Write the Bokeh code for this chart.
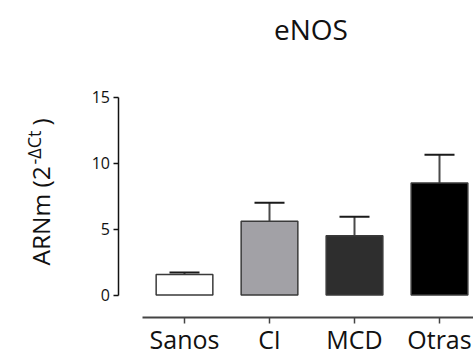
from bokeh.plotting import figure
from bokeh.models import (ColumnDataSource, LinearAxis, FixedTicker, Range1d,
                          Whisker, TeeHead, Label)
from bokeh.embed import file_html
from bokeh.resources import INLINE
import math

# ---- data ----
categories = ["Sanos", "CI", "MCD", "Otras"]
means = [1.55, 5.6, 4.5, 8.5]
errors = [0.15, 1.4, 1.45, 2.15]
fills = ["#ffffff", "#a2a1a6", "#2e2e2e", "#000000"]
y_ticks = [0, 5, 10, 15]
title_text = "eNOS"

FONT = "Open Sans"
W, H = 473, 354
PX_X = 85.0      # pixels per category step
PX_Y = 13.17     # pixels per y unit

x_positions = [i + 1 for i in range(len(categories))]
upper = [m + e for m, e in zip(means, errors)]

src = ColumnDataSource(dict(x=x_positions, top=means, upper=upper,
                            lower=means, fill=fills))

X0 = 1 - 184 / PX_X
X1 = X0 + W / PX_X
Y1 = 294.5 / PX_Y
Y0 = Y1 - H / PX_Y

def dx(px):
    return X0 + px / PX_X
def dy(py):
    return Y1 - py / PX_Y

p = figure(width=W, height=H, output_backend="svg", toolbar_location=None,
           x_range=Range1d(X0, X1), y_range=Range1d(Y0, Y1),
           x_axis_type=None, y_axis_type=None,
           min_border_left=0, min_border_right=0, min_border_top=0,
           min_border_bottom=0)
p.outline_line_color = None
p.xgrid.visible = False
p.ygrid.visible = False
p.background_fill_color = "white"
p.border_fill_color = "white"

p.vbar(x="x", top="top", bottom=0, width=0.667, source=src,
       fill_color="fill", line_color="#3a3a3a", line_width=1.5)

wh = Whisker(base="x", upper="upper", lower="lower", source=src,
             line_color="#4a4a4a", line_width=2,
             upper_head=TeeHead(size=30, line_color="#1a1a1a", line_width=2),
             lower_head=None)
p.add_layout(wh)

yax = LinearAxis(ticker=FixedTicker(ticks=y_ticks), bounds=(0, 15),
                 fixed_location=dx(117.5))
yax.axis_line_color = "#111111"
yax.axis_line_width = 1.5
yax.major_tick_line_color = "#111111"
yax.major_tick_line_width = 1.5
yax.major_tick_out = 5
yax.major_tick_in = 0
yax.minor_tick_out = 0
yax.minor_tick_in = 0
yax.major_label_text_font = FONT
yax.major_label_text_font_size = "16px"
yax.major_label_text_color = "#111111"
yax.major_label_standoff = 3
p.add_layout(yax, "left")

xax = LinearAxis(ticker=FixedTicker(ticks=x_positions), bounds=(dx(142), X1),
                 fixed_location=dy(317))
xax.major_label_overrides = {x: c for x, c in zip(x_positions, categories)}
xax.axis_line_color = "#444444"
xax.axis_line_width = 2
xax.major_tick_line_color = "#444444"
xax.major_tick_line_width = 1.5
xax.major_tick_out = 6
xax.major_tick_in = 0
xax.minor_tick_out = 0
xax.minor_tick_in = 0
xax.major_label_text_font = FONT
xax.major_label_text_font_size = "25px"
xax.major_label_text_color = "#111111"
xax.major_label_standoff = -2
p.add_layout(xax, "below")

# title
p.add_layout(Label(x=dx(310.5), y=dy(28), text=title_text, text_font=FONT,
                   text_font_size="28px", text_align="center",
                   text_baseline="alphabetic", text_color="#111111"))

# y axis label with superscript
p.add_layout(Label(x=dx(40), y=dy(265), text="ARNm (2", angle=math.pi / 2,
                   text_font=FONT, text_font_size="24.5px", text_align="left",
                   text_baseline="alphabetic", text_color="#111111"))
p.add_layout(Label(x=dx(33), y=dy(164), text="-ΔCt", angle=math.pi / 2,
                   text_font=FONT, text_font_size="18px", text_align="left",
                   text_baseline="alphabetic", text_color="#111111"))
p.add_layout(Label(x=dx(40), y=dy(125), text=")", angle=math.pi / 2,
                   text_font=FONT, text_font_size="24.5px", text_align="left",
                   text_baseline="alphabetic", text_color="#111111"))

open("out.html", "w").write(file_html(p, INLINE))
